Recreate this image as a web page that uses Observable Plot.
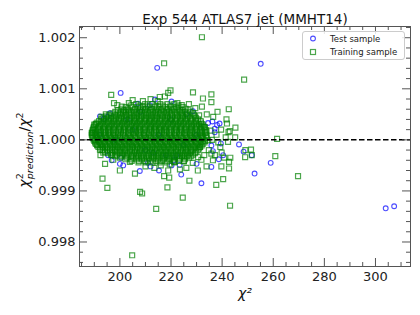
<!DOCTYPE html>
<html><head><meta charset="utf-8">
<script src="https://cdn.jsdelivr.net/npm/d3@7"></script>
<script src="https://cdn.jsdelivr.net/npm/@observablehq/plot@0.6"></script>
<style>
body{margin:0;background:#fff;}
#chart{width:420px;height:315px;}
</style></head>
<body><div id="chart"></div>
<script>
const title = "Exp 544 ATLAS7 jet (MMHT14)";
const xMajor = [200, 220, 240, 260, 280, 300];
const xMinor = [185,190,195,205,210,215,225,230,235,245,250,255,265,270,275,285,290,295,305,310];
const yMajor = [0.998, 0.999, 1.000, 1.001, 1.002];
const yMinor = [0.9976,0.9978,0.9982,0.9984,0.9986,0.9988,0.9992,0.9994,0.9996,0.9998,1.0002,1.0004,1.0006,1.0008,1.0012,1.0014,1.0016,1.0018,1.0022];
const seriesNames = ["Test sample", "Training sample"];

// Test sample (blue circles)
const testX = [214.6,255.1,200.3,207.1,213.7,211.7,220.2,228.6,192.2,193.7,195.0,196.1,234.5,236.2,239.0,237.1,238.0,237.1,235.8,239.5,246.6,248.4,251.6,252.7,259.0,238.7,240.4,236.4,235.8,231.9,230.0,224.0,223.4,221.1,220.2,215.3,212.0,211.0,207.8,201.3,200.0,196.8,195.4,222.0,304.0,307.3,
  205.0,215.0,225.0,198.0,210.0,220.0,230.0,192.0,218.0,203.0,208.0,226.0,200.5,213.0];
const testY = [1.00141,1.00149,1.00092,1.00071,1.00079,1.00068,1.00075,1.00056,1.00046,1.00041,1.00045,1.00052,1.00033,1.00036,1.00032,1.00022,1.00029,1.00015,0.99989,0.99993,0.99991,0.99977,0.99970,0.99934,0.99955,0.99962,0.99970,0.99978,0.99947,0.99915,0.99953,0.99932,0.99951,0.99960,0.99950,0.99940,0.99948,0.99955,0.99939,0.99950,0.99953,0.99960,0.99970,0.99970,0.99866,0.99870,
  1.00020,1.00010,0.99990,1.00000,0.99980,1.00040,1.00010,1.00010,0.99970,1.00040,1.00055,1.00050,0.99965,0.99975];

// Training sample: dense core, read row by row
const coreY = [1.00070,1.00064,1.00058,1.00052,1.00046,1.00040,1.00034,1.00028,1.00022,1.00016,1.00010,1.00004,0.99998,0.99992,0.99986,0.99980,0.99974,0.99968,0.99962,0.99956,
  1.00067,1.00061,1.00055,1.00049,1.00043,1.00037,1.00031,1.00025,1.00019,1.00013,1.00007,1.00001,0.99995,0.99989,0.99983,0.99977,0.99971,0.99965,0.99959];
const coreX = [
 [206.4,209.9,212.7,215.8,218.6,221.3],
 [202.3,204.8,207.1,209.0,211.2,213.5,215.4,217.8,219.9,222.1,224.6],
 [199.2,201.5,203.3,205.6,207.9,209.8,211.9,214.2,216.1,218.4,220.3,222.6,224.4,226.8],
 [197.1,199.4,201.2,203.6,205.4,207.3,209.6,211.5,213.7,215.6,217.9,219.8,221.7,223.9,226.2,228.5],
 [194.6,196.7,198.5,200.8,202.6,204.9,206.8,208.6,210.9,212.8,214.6,216.9,218.7,220.6,222.9,224.7,226.8,229.4],
 [192.7,194.4,196.6,198.3,200.5,202.4,204.2,206.5,208.3,210.4,212.2,214.5,216.3,218.6,220.4,222.3,224.5,226.4,228.3,230.6],
 [191.2,193.4,195.3,197.5,199.4,201.3,203.5,205.4,207.2,209.5,211.3,213.4,215.2,217.5,219.3,221.5,223.4,225.2,227.6,229.5,231.7],
 [190.1,192.3,194.2,196.4,198.2,200.3,202.1,204.4,206.3,208.1,210.4,212.3,214.1,216.4,218.2,220.5,222.3,224.1,226.4,228.3,230.2,232.6],
 [189.6,191.4,193.5,195.3,197.2,199.5,201.4,203.2,205.5,207.3,209.2,211.5,213.3,215.3,217.2,219.4,221.3,223.5,225.3,227.2,229.4,231.3,233.2],
 [189.3,190.9,192.6,194.5,196.3,198.6,200.4,202.3,204.6,206.4,208.2,210.5,212.4,214.2,216.5,218.3,220.2,222.4,224.3,226.5,228.3,230.4,232.2,233.9],
 [189.0,190.5,192.2,194.0,195.8,197.6,199.3,201.2,203.5,205.3,207.6,209.4,211.3,213.5,215.4,217.3,219.6,221.4,223.3,225.6,227.4,229.3,231.5,233.7],
 [189.4,191.1,192.9,194.7,196.6,198.4,200.2,202.5,204.3,206.2,208.5,210.3,212.1,214.4,216.2,218.5,220.4,222.2,224.5,226.3,228.4,230.3,232.1,234.0],
 [190.0,191.8,193.6,195.5,197.3,199.2,201.5,203.3,205.2,207.4,209.3,211.6,213.4,215.3,217.6,219.4,221.2,223.4,225.2,227.5,229.3,231.2,233.3],
 [190.6,192.5,194.3,196.2,198.1,200.3,202.2,204.1,206.3,208.2,210.1,212.4,214.3,216.1,218.4,220.3,222.1,224.4,226.2,228.1,230.3,232.4],
 [191.6,193.4,195.2,197.4,199.3,201.1,203.4,205.2,207.1,209.3,211.2,213.1,215.4,217.2,219.1,221.3,223.2,225.4,227.3,229.2,231.4],
 [193.2,195.0,196.9,198.7,200.6,202.5,204.7,206.6,208.5,210.7,212.6,214.5,216.7,218.6,220.5,222.7,224.6,226.5,228.4,230.6],
 [195.3,197.2,199.5,201.4,203.3,205.5,207.4,209.3,211.5,213.4,215.3,217.5,219.4,221.3,223.5,225.4,227.3,229.4],
 [198.1,200.3,202.2,204.4,206.3,208.2,210.4,212.3,214.2,216.4,218.3,220.2,222.4,224.3,226.2,227.9],
 [202.2,204.4,206.5,208.6,210.7,212.8,214.9,217.0,219.1,221.2,223.3,225.5],
 [207.3,210.1,212.8,215.6,218.3,221.2],
 [204.2,207.6,210.8,213.9,216.9,219.8,222.9],
 [200.6,203.1,205.9,208.1,210.2,212.4,214.6,216.7,218.9,221.1,223.4,225.7],
 [198.2,200.4,202.4,204.5,206.6,208.7,210.8,212.9,215.0,217.2,219.1,221.4,223.3,225.5,227.6],
 [195.8,198.1,200.0,202.3,204.1,206.1,208.2,210.2,212.3,214.2,216.3,218.3,220.4,222.3,224.4,226.4,228.9],
 [193.5,195.6,197.4,199.6,201.5,203.7,205.6,207.5,209.7,211.5,213.6,215.5,217.7,219.5,221.6,223.7,225.6,227.5,229.8],
 [191.9,193.9,195.9,197.8,199.9,201.8,203.9,205.9,207.8,209.9,211.8,213.9,215.8,217.9,219.9,221.9,223.9,225.8,227.9,229.9,231.6],
 [190.6,192.8,194.8,196.8,198.8,200.8,202.9,204.8,206.8,208.8,210.8,212.8,214.7,216.9,218.8,220.9,222.8,224.8,226.9,228.9,230.9,232.2],
 [189.8,191.7,193.8,195.8,197.7,199.8,201.8,203.8,205.8,207.7,209.8,211.9,213.7,215.8,217.8,219.9,221.8,223.8,225.9,227.8,229.8,231.8,233.0],
 [189.4,190.4,192.0,194.1,195.9,197.8,199.9,201.7,203.9,206.0,207.9,209.8,211.9,214.0,215.9,217.8,219.9,222.0,223.9,225.8,227.9,230.0,231.9,233.6],
 [189.1,190.2,191.8,193.6,195.4,197.3,199.2,201.3,203.4,205.2,207.3,209.4,211.2,213.3,215.4,217.2,219.3,221.4,223.2,225.3,227.4,229.2,231.3,233.2],
 [189.2,190.8,192.6,194.3,196.2,198.0,200.0,201.9,203.9,206.0,207.9,209.8,212.0,213.9,215.8,217.9,220.0,221.8,223.9,226.0,227.9,229.8,232.0,233.8],
 [189.7,191.4,193.2,195.1,196.9,198.8,200.9,202.9,204.8,206.8,208.9,210.9,212.8,214.8,216.9,218.9,220.8,222.8,224.9,226.8,228.9,230.8,232.7],
 [190.3,192.1,194.0,195.9,197.7,199.7,201.8,203.7,205.7,207.8,209.7,211.8,213.8,215.7,217.8,219.8,221.7,223.8,225.7,227.8,229.8,231.8,233.1],
 [191.1,193.0,194.8,196.8,198.7,200.7,202.8,204.7,206.7,208.7,210.7,212.7,214.8,216.7,218.7,220.8,222.7,224.8,226.7,228.7,230.8,232.0],
 [192.4,194.2,196.1,198.0,199.9,201.8,203.9,205.9,207.8,209.9,211.9,213.8,215.9,217.8,219.8,221.9,223.8,225.9,227.8,229.9,231.0],
 [194.2,196.1,198.2,200.0,202.0,204.0,206.0,208.0,209.9,212.0,214.0,215.9,218.0,220.0,222.0,224.1,226.0,227.9,229.9],
 [196.6,198.8,200.9,202.8,204.8,206.9,208.8,210.9,212.8,214.9,216.9,218.8,220.9,222.8,224.9,226.8,228.6],
 [200.0,202.8,205.2,207.3,209.4,211.4,213.3,215.5,217.5,219.4,221.4,223.4,225.3,227.1],
 [204.6,207.5,209.8,211.9,214.1,216.3,218.6,220.9,223.2,225.0]
];
// Training sample: scattered points
const trainX = [232.1,217.3,248.6,219.8,218.9,217.6,215.6,228.6,235.8,232.5,235.8,232.1,196.6,197.7,200.7,242.6,241.7,241.9,245.2,242.5,241.4,245.1,242.3,239.3,261.5,249.1,251.3,249.0,251.6,260.8,269.7,243.2,242.7,242.7,239.7,243.1,240.4,237.7,236.4,233.9,231.9,230.6,235.8,231.3,234.5,232.5,227.2,224.6,219.3,217.3,218.6,214.2,207.9,208.7,205.9,200.0,203.9,195.1,193.2,194.2,192.4,192.2,196.8,197.4,204.8,190.0,189.0,219.5,221.5,218.9,243.0,
  234.0,236.5,238.2,233.2,235.5,237.8,239.6,236.0,238.5,234.8,237.2,233.0,239.8,240.8,227.0,229.5,231.0,225.0,228.5,226.0,230.5,216.0,210.0,213.5,223.5,203.5,205.0,209.0,212.0,214.8,222.5,224.2,199.0,201.8,190.8,189.6,190.4,191.2,192.8,194.5,193.5];
const trainY = [1.00201,1.00150,1.00118,1.00097,1.00092,1.00085,1.00084,1.00093,1.00089,1.00081,1.00074,1.00065,1.00088,1.00072,1.00065,1.00060,1.00040,1.00032,1.00024,1.00015,1.00005,1.00005,0.99996,0.99986,1.00002,0.99980,0.99981,0.99966,0.99970,0.99968,0.99929,0.99965,0.99944,0.99957,0.99948,0.99871,0.99923,0.99912,0.99960,0.99948,0.99961,0.99966,0.99973,0.99986,0.99999,1.00007,0.99920,0.99887,0.99926,0.99929,0.99907,0.99865,0.99898,0.99895,0.99934,0.99940,0.99957,0.99906,0.99924,0.99953,0.99970,0.99981,0.99970,0.99961,0.99774,1.00030,1.00014,0.99952,0.99957,0.99940,1.00017,
  1.00050,1.00045,1.00055,1.00025,1.00018,1.00010,1.00020,1.00000,0.99995,0.99980,0.99970,0.99970,0.99975,0.99965,1.00070,1.00062,1.00048,0.99958,0.99955,0.99945,0.99940,0.99950,0.99948,0.99945,0.99942,1.00072,1.00078,1.00076,1.00080,1.00076,1.00072,1.00068,1.00068,1.00058,1.00032,1.00013,1.00000,0.99990,1.00045,1.00050,0.99975];

const test = testX.map((x, i) => ({x, y: testY[i]}));
const train = coreY.flatMap((y, i) => coreX[i].map(x => ({x, y})))
  .concat(trainX.map((x, i) => ({x, y: trainY[i]})));

const W = 420, H = 315, mL = 79, mR = 10, mT = 26, mB = 49;
const iW = W - mL - mR, iH = H - mT - mB;
const axisColor = "#555";

const chart = Plot.plot({
  width: W, height: H,
  marginLeft: mL, marginRight: mR, marginTop: mT, marginBottom: mB,
  style: {fontFamily: "DejaVu Sans, sans-serif", fontSize: "13px", color: "#222", background: "white"},
  x: {domain: [184.2, 313.7], label: null},
  y: {domain: [0.99752, 1.00222], label: null},
  marks: [
    Plot.dot(test, {x: "x", y: "y", r: 2.4, stroke: "#0000ff", strokeOpacity: 0.7, strokeWidth: 1.1, fill: "none"}),
    Plot.dot(train, {x: "x", y: "y", r: 2.8, symbol: "square", stroke: "#008000", strokeOpacity: 0.7, strokeWidth: 1.2, fill: "none"}),
    Plot.ruleY([1], {stroke: "black", strokeWidth: 1.5, strokeDasharray: "5.5,2.5"}),
    Plot.frame({stroke: axisColor}),
    Plot.tickX(xMajor, {x: d => d, insetTop: iH - 8, stroke: axisColor}),
    Plot.tickX(xMajor, {x: d => d, insetBottom: iH - 8, stroke: axisColor}),
    Plot.tickX(xMinor, {x: d => d, insetTop: iH - 4, stroke: axisColor}),
    Plot.tickX(xMinor, {x: d => d, insetBottom: iH - 4, stroke: axisColor}),
    Plot.tickY(yMajor, {y: d => d, insetRight: iW - 8, stroke: axisColor}),
    Plot.tickY(yMajor, {y: d => d, insetLeft: iW - 8, stroke: axisColor}),
    Plot.tickY(yMinor, {y: d => d, insetRight: iW - 4, stroke: axisColor}),
    Plot.tickY(yMinor, {y: d => d, insetLeft: iW - 4, stroke: axisColor}),
    Plot.axisX({ticks: xMajor, tickSize: 0, tickPadding: 5, tickFormat: d => String(d), label: null, fontSize: 13}),
    Plot.axisY({ticks: yMajor, tickSize: 0, tickPadding: 4, tickFormat: d3.format(".3f"), label: null, fontSize: 13}),
    Plot.text([title], {text: d => d, frameAnchor: "top", dy: -12.5, fontSize: 13.5, fill: "#111"}),
    Plot.text(["χ²"], {text: d => d, frameAnchor: "bottom", dy: 31, fontSize: 14, fontStyle: "italic", fill: "#111"})
  ]
});
document.getElementById("chart").appendChild(chart);

// y-axis label with super/subscripts
const svg = d3.select(chart);
const yl = svg.append("text")
  .attr("transform", "translate(29,150) rotate(-90)")
  .attr("text-anchor", "middle")
  .attr("font-family", "DejaVu Sans, sans-serif")
  .attr("font-size", 14)
  .attr("fill", "#111");
yl.append("tspan").attr("font-style", "italic").text("χ");
yl.append("tspan").attr("font-size", 9.5).attr("dy", -6).text("2");
yl.append("tspan").attr("font-size", 9.5).attr("font-style", "italic").attr("dx", -6).attr("dy", 10).text("prediction");
yl.append("tspan").attr("dy", -4).text("/");
yl.append("tspan").attr("font-style", "italic").text("χ");
yl.append("tspan").attr("font-size", 9.5).attr("dy", -6).text("2");

// legend
const lg = svg.append("g").attr("font-family", "DejaVu Sans, sans-serif").attr("font-size", 8.5)
  .attr("fill", "#222").attr("text-anchor", "start");
lg.append("rect").attr("x", 302.5).attr("y", 31.5).attr("width", 102).attr("height", 28).attr("rx", 2.5)
  .attr("fill", "white").attr("fill-opacity", 0.85).attr("stroke", "#ccc");
lg.append("circle").attr("cx", 313).attr("cy", 38.5).attr("r", 2.4)
  .attr("fill", "none").attr("stroke", "#0000ff").attr("stroke-opacity", 0.7).attr("stroke-width", 1.1);
lg.append("rect").attr("x", 310.5).attr("y", 49.5).attr("width", 5).attr("height", 5)
  .attr("fill", "none").attr("stroke", "#008000").attr("stroke-opacity", 0.7).attr("stroke-width", 1.2);
lg.append("text").attr("x", 330).attr("y", 41.5).attr("text-anchor", "start").text(seriesNames[0]);
lg.append("text").attr("x", 330).attr("y", 55.3).attr("text-anchor", "start").text(seriesNames[1]);
</script>
</body></html>
